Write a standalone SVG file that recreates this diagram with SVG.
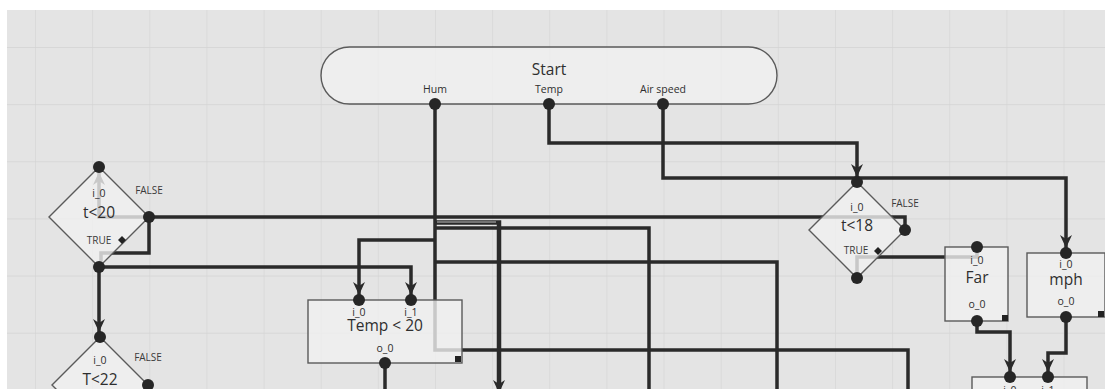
<svg xmlns="http://www.w3.org/2000/svg" width="1105" height="389" viewBox="0 0 1105 389">
<defs>
<pattern id="grid" x="35" y="47" width="57.14" height="57.14" patternUnits="userSpaceOnUse">
<path d="M0,0 V57.14 M0,0 H57.14" fill="none" stroke="#d4d4d4" stroke-width="1.3"/>
</pattern>
<marker id="arr" viewBox="-20 -7 20 14" markerWidth="20" markerHeight="14" refX="0" refY="0" orient="auto" markerUnits="userSpaceOnUse">
<path d="M-18,-6 L-5,0 L-18,6 L-14,0 z" fill="#2a2a2a"/>
</marker>
<style>
.bg{fill:#e4e4e4}
.c{fill:none;stroke:#2a2a2a;stroke-width:3.5;stroke-linejoin:miter}
.node{fill:#f0f0f0;fill-opacity:0.8;stroke:#5a5a5a;stroke-width:1.4}
.port{fill:#262626}
.sq{fill:#222}
text{font-family:"Open Sans","Noto Sans","DejaVu Sans",sans-serif;fill:#2e2e2e;text-anchor:middle}
.big{font-size:15.5px}
.sm{font-size:10.5px}
.tf{font-size:10px;fill:#3a3a3a}
</style>
</defs>
<rect x="0" y="0" width="1105" height="389" fill="#ffffff"/>
<rect class="bg" x="7" y="10" width="1098" height="379"/>
<rect x="7" y="10" width="1098" height="379" fill="url(#grid)"/>

<g id="connectors">
<path class="c" d="M549,104 V143 H857 V182" marker-end="url(#arr)"/>
<path class="c" d="M663,104 V178 H1066 V253" marker-end="url(#arr)"/>
<path class="c" d="M435,104 V350 H908 V400"/>
<path class="c" d="M435,240 H359 V300" marker-end="url(#arr)"/>
<path class="c" d="M435,228 H649 V400"/>
<path class="c" d="M435,262 H777 V400"/>
<path d="M435,222.5 H499 V398" fill="none" stroke="#2a2a2a" stroke-width="4.5" marker-end="url(#arr)"/>
<path d="M437,222 H496" fill="none" stroke="#bdbdbd" stroke-width="1.2"/>
<path class="c" d="M149,217 H905 V230"/>
<path class="c" d="M149,217 V253 H101 V267"/>
<path class="c" d="M149,217 H99 V167" marker-end="url(#arr)"/>
<path class="c" d="M99,267 H411 V300" marker-end="url(#arr)"/>
<path class="c" d="M99,267 V337" marker-end="url(#arr)"/>
<path class="c" d="M385,363 V400"/>
<path class="c" d="M857,278 V257 H977 V247"/>
<path class="c" d="M977,321 V332 H1010 V377" marker-end="url(#arr)"/>
<path class="c" d="M1066,317 V353 H1048 V377" marker-end="url(#arr)"/>
</g>

<g id="start">
<rect class="node" x="321" y="47" width="456" height="57" rx="28.5" ry="28.5"/>
<text class="big" x="549" y="75">Start</text>
<text class="sm" x="435" y="92.5">Hum</text>
<text class="sm" x="549" y="92.5">Temp</text>
<text class="sm" x="663" y="92.5">Air speed</text>
<circle class="port" cx="435" cy="104" r="6"/>
<circle class="port" cx="549" cy="104" r="6"/>
<circle class="port" cx="663" cy="104" r="6"/>
</g>

<g id="t20">
<path class="node" d="M99,167 L149,217 L99,267 L49,217 Z"/>
<text class="sm" x="99" y="197">i_0</text>
<text class="big" x="99" y="218">t&lt;20</text>
<text class="tf" x="149" y="194">FALSE</text>
<text class="tf" x="99" y="244">TRUE</text>
<path class="sq" d="M122,236 L126,240 L122,244 L118,240 Z"/>
<circle class="port" cx="99" cy="167" r="6"/>
<circle class="port" cx="149" cy="217" r="6"/>
<circle class="port" cx="99" cy="267" r="6"/>
</g>

<g id="t22">
<path class="node" d="M100,337 L148,385 L100,433 L52,385 Z"/>
<text class="sm" x="100" y="364">i_0</text>
<text class="big" x="100" y="385">T&lt;22</text>
<text class="tf" x="148" y="361">FALSE</text>
<circle class="port" cx="100" cy="337" r="6"/>
<circle class="port" cx="148" cy="385" r="6"/>
</g>

<g id="temp20">
<rect class="node" x="308" y="300" width="154" height="63"/>
<text class="sm" x="359" y="316">i_0</text>
<text class="sm" x="411" y="316">i_1</text>
<text class="big" x="385" y="331">Temp &lt; 20</text>
<text class="sm" x="385" y="352">o_0</text>
<rect class="sq" x="455" y="356" width="6" height="6"/>
<circle class="port" cx="359" cy="300" r="6"/>
<circle class="port" cx="411" cy="300" r="6"/>
<circle class="port" cx="385" cy="363" r="6"/>
</g>

<g id="t18">
<path class="node" d="M857,182 L905,230 L857,278 L809,230 Z"/>
<text class="sm" x="857" y="211">i_0</text>
<text class="big" x="857" y="231">t&lt;18</text>
<text class="tf" x="905" y="207">FALSE</text>
<text class="tf" x="856" y="254">TRUE</text>
<path class="sq" d="M878,247 L882,251 L878,255 L874,251 Z"/>
<circle class="port" cx="857" cy="182" r="6"/>
<circle class="port" cx="905" cy="230" r="6"/>
<circle class="port" cx="857" cy="278" r="6"/>
</g>

<g id="far">
<rect class="node" x="945" y="247" width="63" height="74"/>
<text class="sm" x="977" y="264">i_0</text>
<text class="big" x="977" y="283">Far</text>
<text class="sm" x="977" y="308">o_0</text>
<rect class="sq" x="1002" y="315" width="6" height="6"/>
<circle class="port" cx="977" cy="247" r="6"/>
<circle class="port" cx="977" cy="321" r="6"/>
</g>

<g id="mph">
<rect class="node" x="1027" y="253" width="78" height="64"/>
<text class="sm" x="1066" y="268">i_0</text>
<text class="big" x="1066" y="285">mph</text>
<text class="sm" x="1066" y="305">o_0</text>
<rect class="sq" x="1098" y="311" width="6" height="6"/>
<circle class="port" cx="1066" cy="253" r="6"/>
<circle class="port" cx="1066" cy="317" r="6"/>
</g>

<g id="bottom">
<rect class="node" x="972" y="377" width="115" height="40"/>
<text class="sm" x="1010" y="394">i_0</text>
<text class="sm" x="1048" y="394">i_1</text>
<circle class="port" cx="1010" cy="377" r="6"/>
<circle class="port" cx="1048" cy="377" r="6"/>
</g>
</svg>
